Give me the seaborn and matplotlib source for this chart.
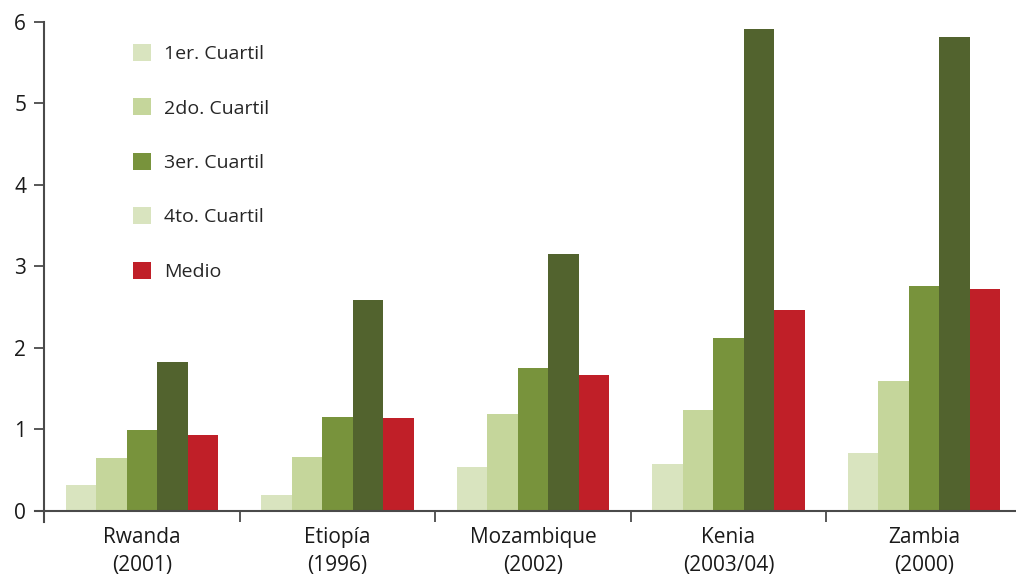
import matplotlib
matplotlib.use("Agg")
import matplotlib.pyplot as plt
from matplotlib.patches import Patch
import seaborn as sns
import pandas as pd

# Country / survey year categories
countries = ["Rwanda\n(2001)", "Etiopía\n(1996)", "Mozambique\n(2002)",
             "Kenia\n(2003/04)", "Zambia\n(2000)"]
series = ["1er. Cuartil", "2do. Cuartil", "3er. Cuartil", "4to. Cuartil", "Medio"]

q1 = [0.31, 0.19, 0.53, 0.57, 0.71]
q2 = [0.64, 0.66, 1.19, 1.23, 1.59]
q3 = [0.99, 1.15, 1.75, 2.12, 2.76]
q4 = [1.83, 2.58, 3.15, 5.91, 5.81]
medio = [0.93, 1.14, 1.66, 2.46, 2.72]

bar_colors = ["#d9e4bf", "#c5d69b", "#78933c", "#52632e", "#c01f28"]
legend_colors = ["#d9e4bf", "#c5d69b", "#78933c", "#d9e4bf", "#c01f28"]
y_ticks = [0, 1, 2, 3, 4, 5, 6]

rows = []
for name, vals in zip(series, [q1, q2, q3, q4, medio]):
    for c, v in zip(countries, vals):
        rows.append({"pais": c, "serie": name, "valor": v})
df = pd.DataFrame(rows)

sns.set_style("white")
plt.rcParams["font.family"] = ["Open Sans", "DejaVu Sans"]

fig = plt.figure(figsize=(10.16, 5.76), dpi=100)
px_per_cat = 195.5
x_lo, x_hi = -0.5 - 9.25 / px_per_cat, 4.55
# axes area: left edge slightly left of the y spine so the x spine overhangs
ax = fig.add_axes([35 / 1016, 66 / 576 - 0.02,
                   (x_hi - x_lo) * px_per_cat / 1016, (488 / 576) + 0.02])

sns.barplot(data=df, x="pais", y="valor", hue="serie", order=countries,
            hue_order=series, palette=bar_colors, width=0.78, saturation=1,
            legend=False, ax=ax, linewidth=0)

px_per_unit = 488 / 6
ax.set_ylim(-11 / px_per_unit, 6)
ax.set_xlim(x_lo, x_hi)

spine_col = "#4a4a4a"
for s in ["top", "right"]:
    ax.spines[s].set_visible(False)
ax.spines["left"].set_position(("data", -0.5))
ax.spines["bottom"].set_position(("data", 0))
ax.spines["left"].set_bounds(-11 / px_per_unit, 6)
for s in ["left", "bottom"]:
    ax.spines[s].set_color(spine_col)
    ax.spines[s].set_linewidth(1.5)

ax.set_yticks(y_ticks)
ax.set_yticklabels([str(t) for t in y_ticks], fontsize=15, color="#1a1a1a")
ax.tick_params(axis="y", direction="out", length=7, width=1.3, color=spine_col,
               pad=6, left=True)

ax.set_xticks([0.5, 1.5, 2.5, 3.5])
ax.set_xticklabels([])
ax.set_xticks(range(len(countries)), minor=True)
ax.set_xticklabels(countries, minor=True, fontsize=15, color="#1a1a1a",
                   linespacing=1.45)
ax.tick_params(axis="x", which="major", direction="out", length=8, width=1.3,
               color=spine_col, bottom=True)
ax.tick_params(axis="x", which="minor", length=0, pad=12)
ax.set_xlabel("")
ax.set_ylabel("")
ax.grid(False)

handles = [Patch(facecolor=c, edgecolor="none") for c in legend_colors]
fig.legend(handles, series, loc="upper left", bbox_to_anchor=(133 / 1016, 1 - 44 / 576),
           frameon=False, fontsize=14, handlelength=0.95, handleheight=0.95,
           handletextpad=0.65, labelspacing=1.82, borderpad=0, borderaxespad=0)

fig.savefig("out.png", dpi=100)
